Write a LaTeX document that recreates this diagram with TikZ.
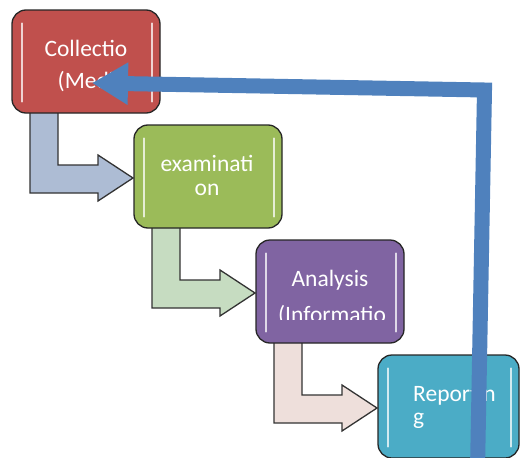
\documentclass[tikz,border=0pt]{standalone}
\usepackage{fontspec}
\setmainfont{Carlito}
\usetikzlibrary{arrows.meta}
\definecolor{boxred}{HTML}{C0504D}
\definecolor{boxgreen}{HTML}{9BBB59}
\definecolor{boxpurple}{HTML}{8064A2}
\definecolor{boxcyan}{HTML}{4BACC6}
\definecolor{bentblue}{HTML}{ADBCD4}
\definecolor{bentgreen}{HTML}{C6DCC1}
\definecolor{bentpink}{HTML}{EEDFDB}
\definecolor{loopblue}{HTML}{4F81BD}
\tikzset{
  stagebox/.style={draw=black!85, line width=1.3pt, rounded corners=14pt, minimum height=103pt, inner sep=0pt},
  bentarrow/.style={draw=black!80, line width=1.3pt, line join=miter},
  stagetext/.style={text=white, font=\fontsize{23.5}{28}\selectfont, inner sep=0pt, anchor=base},
  gloss/.style={white, line width=2pt, line cap=round, opacity=0.75},
  loopback/.style={loopblue, line width=15pt, line join=miter, -{Triangle[length=36pt,width=40pt]}}
}
\def\bent{(30,105) -- (30,193) -- (98,193) -- (98,201) -- (133,178) -- (98,155) -- (98,165) -- (58,165) -- (58,105) -- cycle}

\begin{document}
\begin{tikzpicture}[x=1pt,y=-1pt]
        \clip (0,0) rectangle (520,458);
        \foreach \i/\c in {0/bentblue,1/bentgreen,2/bentpink}{
        \draw[bentarrow, fill=\c, shift={(122*\i,115*\i)}] \bent;
        }
        \foreach \i/\c/\w in {1/boxred/148,2/boxgreen/148,3/boxpurple/148,4/boxcyan/141}{
        \node[stagebox, fill=\c, minimum width=\w pt] (b\i) at ({12+122*(\i-1)+\w/2},{61.5+115*(\i-1)}) {};
        \draw[gloss] ([xshift=11pt,yshift=-14pt]b\i.north west) -- ([xshift=11pt,yshift=12pt]b\i.south west);
        \draw[gloss] ([xshift=-9pt,yshift=-14pt]b\i.north east) -- ([xshift=-9pt,yshift=12pt]b\i.south east);
        }
        \node[stagetext] (t1a) at (86,56) {Collectio};
        \node[stagetext] (t1b) at (86,88) {(Medi};
        \node[stagetext] (t2a) at (207,171) {examinati};
        \node[stagetext] (t2b) at (207,195) {on};
        \node[stagetext] (t3a) at (330,286) {Analysis};
        \begin{scope}
        \clip (256,240) rectangle (404,319.5);
        \node[stagetext] (t3b) at (332,322) {(Informatio};
        \end{scope}
        \node[stagetext, anchor=base west] (t4a) at (413,401) {Reportin};
        \node[stagetext, anchor=base west] (t4b) at (413,424) {g};
        \coordinate (lb) at (477.5,470);
        \coordinate (lc) at (484.5,90);
        \coordinate (le) at (92,83);
        \draw[loopback] (lb) -- (lc) -- (le);
      \end{tikzpicture}
\end{document}
